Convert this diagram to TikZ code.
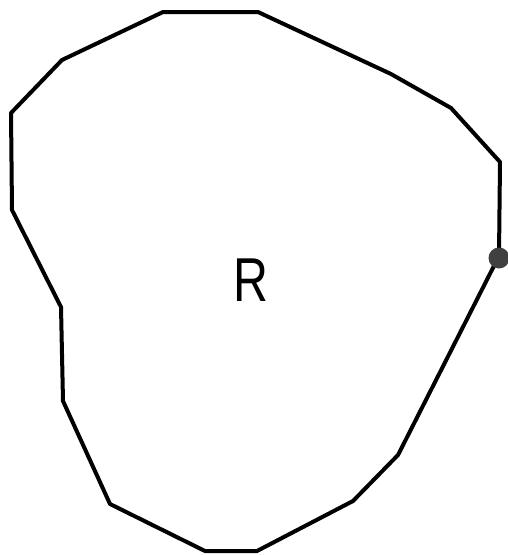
\documentclass[tikz,border=0pt]{standalone}
\usepackage{fontspec}
\newfontfamily\lbl{Liberation Sans}
\begin{document}
\begin{tikzpicture}[x=1pt,y=-1pt,
  outline/.style={line width=4pt,line join=round,line cap=round,black},
  pointdot/.style={circle,fill=black!75,inner sep=0pt,minimum size=21pt},
  region/.style={font=\lbl\fontsize{62}{62}\selectfont,xscale=0.78,inner sep=0pt}]
\useasboundingbox (0,0) rectangle (508,555);
\coordinate (v1) at (163,12);
\coordinate (v2) at (258,12);
\coordinate (v3) at (391,74);
\coordinate (v4) at (451,108);
\coordinate (v5) at (500,162);
\coordinate (v6) at (499,256);
\coordinate (v7) at (398,455);
\coordinate (v8) at (353,501);
\coordinate (v9) at (257,551);
\coordinate (v10) at (205,551);
\coordinate (v11) at (110,504);
\coordinate (v12) at (63,401);
\coordinate (v13) at (61,307);
\coordinate (v14) at (12,210);
\coordinate (v15) at (11,113);
\coordinate (v16) at (62,60);
\draw[outline] (v1) -- (v2) -- (v3) -- (v4) -- (v5) -- (v6) -- (v7) -- (v8) -- (v9) -- (v10) -- (v11) -- (v12) -- (v13) -- (v14) -- (v15) -- (v16) -- cycle;
\node[pointdot] (p) at (499,258) {};
\node[region] (r) at (251,280) {R};
\end{tikzpicture}
\end{document}
